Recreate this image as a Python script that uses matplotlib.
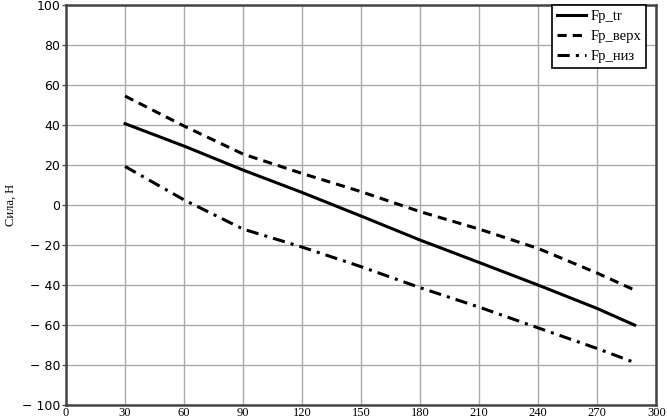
import matplotlib
matplotlib.use("Agg")
from matplotlib import pyplot as plt

# значения
x = [30, 60, 90, 120, 150, 180, 210, 240, 270, 289]
fp_tr = [40.7, 29.5, 17.5, 6.3, -5.5, -17.5, -28.7, -40.0, -51.7, -60.0]
fp_verh = [54.5, 39.5, 25.5, 15.8, 6.7, -3.3, -12.0, -21.7, -34.0, -42.5]
fp_niz = [19.3, 2.6, -12.0, -21.0, -30.8, -41.3, -51.0, -61.4, -71.7, -78.7]

x_ticks = list(range(0, 301, 30))
y_ticks = list(range(-100, 101, 20))

fig = plt.figure(figsize=(6.67, 4.19), dpi=100)
ax = fig.add_axes([0.099, 0.033, 0.885, 0.955])

ax.plot(x, fp_tr, color="black", lw=2.2, ls="-", label="Fp_tr")
ax.plot(x, fp_verh, color="black", lw=2.2, ls=(0, (3, 2)), label="Fp_верх")
ax.plot(x, fp_niz, color="black", lw=2.2, ls=(0, (4, 2, 1, 2)), label="Fp_низ")

ax.set_xlim(0, 300)
ax.set_ylim(-100, 100)
ax.set_xticks(x_ticks)
ax.set_yticks(y_ticks)
ax.set_xticklabels([str(v) for v in x_ticks], family="Liberation Serif", fontsize=9)
ax.set_yticklabels([str(v).replace("-", "\u2212 ") for v in y_ticks], family="DejaVu Sans", fontsize=9)
ax.tick_params(axis="y", length=3, width=1, color="#555555", pad=1)
ax.tick_params(axis="x", length=0, pad=1)
ax.grid(True, color="#aaaaaa", lw=1)
for s in ax.spines.values():
    s.set_color("#444444")
    s.set_linewidth(1.8)

ax.set_ylabel("Сила, Н", family="Liberation Serif", fontsize=9)
ax.yaxis.set_label_coords(-0.083, 0.5)

leg = ax.legend(loc="upper right", bbox_to_anchor=(0.983, 1.0),
                prop={"family": "Liberation Serif", "size": 10.5},
                fancybox=False, framealpha=1, edgecolor="black", handlelength=2.0,
                handletextpad=0.3, borderaxespad=0.0, labelspacing=0.45,
                borderpad=0.35)
leg.get_frame().set_linewidth(1.2)

fig.savefig("out.png", dpi=100)
